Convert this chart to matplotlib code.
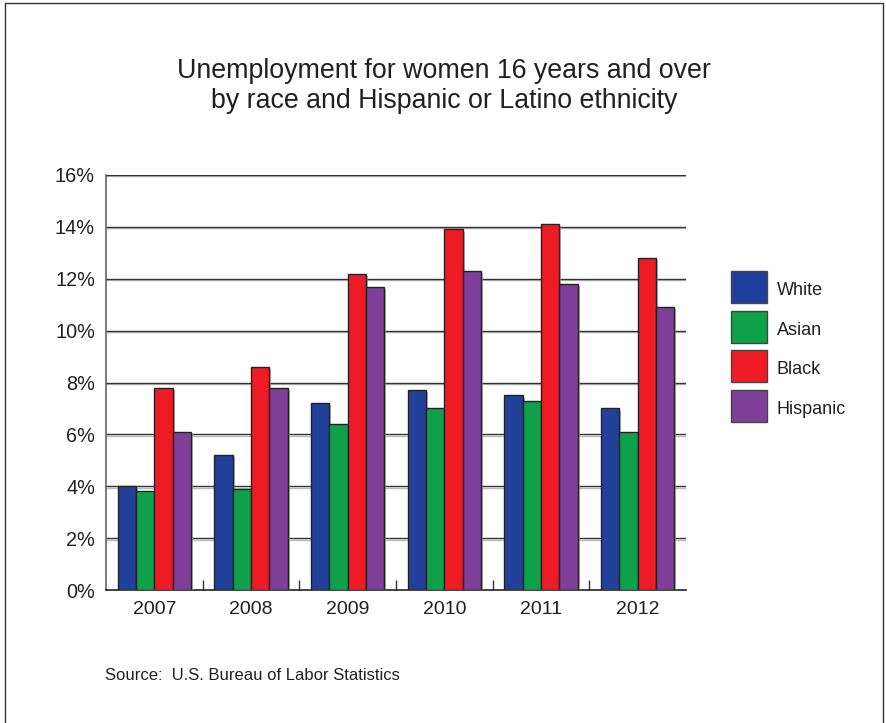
import numpy as np
import matplotlib
matplotlib.use("Agg")
import matplotlib.pyplot as plt
import matplotlib.patheffects as pe
from matplotlib.patches import Rectangle, Patch
from matplotlib.legend_handler import HandlerPatch
from matplotlib.ticker import FixedLocator

plt.rcParams['font.family'] = ['Liberation Sans', 'DejaVu Sans']

years = ["2007", "2008", "2009", "2010", "2011", "2012"]
white = [4.0, 5.2, 7.2, 7.7, 7.5, 7.0]
asian = [3.8, 3.9, 6.4, 7.0, 7.3, 6.1]
black = [7.8, 8.6, 12.2, 13.9, 14.1, 12.8]
hispanic = [6.1, 7.8, 11.7, 12.3, 11.8, 10.9]
series_names = ["White", "Asian", "Black", "Hispanic"]
colors = ["#21409a", "#0fa04a", "#ed1c24", "#7f3f98"]

W, H = 887, 723
fig = plt.figure(figsize=(W / 100, H / 100), dpi=100)
ax = fig.add_axes([106 / W, 1 - 590 / H, 580 / W, 415 / H])

x = np.arange(len(years))
bw = 0.19
shadow = [pe.SimplePatchShadow(offset=(1.5, -1.5), shadow_rgbFace="#999999", alpha=0.7), pe.Normal()]
for i, (vals, c) in enumerate(zip([white, asian, black, hispanic], colors)):
    bars = ax.bar(x + (i - 1.5) * bw, vals, bw, color=c, edgecolor="#222222", linewidth=1, zorder=3)
    for b in bars:
        b.set_path_effects(shadow)

ax.set_xlim(-0.5, len(years) - 0.5)
ax.set_ylim(0, 16)
ax.set_yticks(np.arange(0, 17, 2))
ax.set_yticklabels([f"{v}%" for v in range(0, 17, 2)], fontsize=14.3, color="#231f20")
ax.set_xticks(x)
ax.set_xticklabels(years, fontsize=14, color="#231f20")
ax.xaxis.set_minor_locator(FixedLocator(np.arange(0.5, len(years) - 0.5, 1)))
ax.tick_params(axis="x", which="major", length=0, pad=8)
ax.tick_params(axis="x", which="minor", direction="in", length=7.5, width=1, color="#333333")
ax.tick_params(axis="y", length=0, pad=8)

for v in range(2, 17, 2):
    ax.axhline(v, color="#333333", lw=1, zorder=1,
               path_effects=[pe.SimpleLineShadow(offset=(0, -1), shadow_color="#aaaaaa", alpha=0.8), pe.Normal()])

for s in ["top", "right"]:
    ax.spines[s].set_visible(False)
ax.spines["left"].set_color("#666666")
ax.spines["left"].set_linewidth(1.2)
ax.spines["bottom"].set_color("#222222")
ax.spines["bottom"].set_linewidth(1.2)


class BoxHandler(HandlerPatch):
    # square legend keys, a bit taller than the text row
    def create_artists(self, legend, orig_handle, xdescent, ydescent, width, height, fontsize, trans):
        h = 23.0  # points (~32 px)
        cy = (height - ydescent) / 2
        p = Rectangle((-xdescent, cy - h / 2), width, h)
        self.update_prop(p, orig_handle, legend)
        p.set_transform(trans)
        return [p]


handles = [Patch(facecolor=c, edgecolor="#444444", linewidth=1) for c in colors]
fig.legend(handles, series_names, loc="upper left", bbox_to_anchor=(731 / W, 1 - 279 / H),
           frameon=False, fontsize=13, borderpad=0, borderaxespad=0,
           handlelength=1.99, handleheight=1.4, labelspacing=1.03, handletextpad=0.55,
           labelcolor="#231f20", handler_map={Patch: BoxHandler()})

fig.text(444 / W, 1 - 86 / H, "Unemployment for women 16 years and over\nby race and Hispanic or Latino ethnicity",
         ha="center", va="center", fontsize=19.3, color="#231f20", linespacing=1.23)
fig.text(105 / W, 1 - 675 / H, "Source:  U.S. Bureau of Labor Statistics",
         ha="left", va="center", fontsize=12, color="#231f20")

fig.add_artist(Rectangle((5 / W, -0.02), 878 / W, 1 - 3 / H + 0.02, transform=fig.transFigure,
                         fill=False, edgecolor="#333333", linewidth=1))

fig.savefig("out.png", dpi=100, facecolor="white")
